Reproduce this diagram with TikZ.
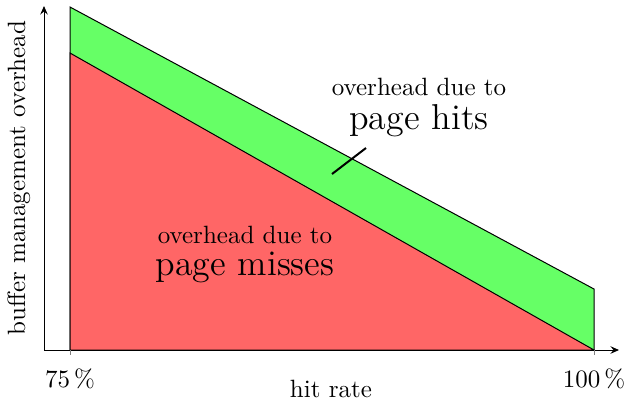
\documentclass[tikz,border=0pt]{standalone}
\usetikzlibrary{arrows.meta}
\begin{document}
\begin{tikzpicture}[x=0.4pt,y=-0.4pt,
  axis/.style={-{Stealth[length=3.4pt,width=3pt,inset=1.2pt]},black},
  tickmark/.style={gray,thin},
  lbl/.style={inner sep=0pt,align=center},
  big/.style={font=\Large}]
\useasboundingbox (0,0) rectangle (627,403);
% key points
\coordinate (O) at (44,350);
\coordinate (L) at (70,350);
\coordinate (R) at (594,350);
\coordinate (GL) at (70,7);
\coordinate (GR) at (594,289);
\coordinate (RL) at (70,53);
% regions
\filldraw[fill=green!60,draw=black] (L) -- (GL) -- (GR) -- (R) -- cycle;
\filldraw[fill=red!60,draw=black] (L) -- (RL) -- (R) -- cycle;
% axes
\coordinate (Ytop) at (44,6);
\coordinate (Xend) at (619,350);
\draw[axis] (O) -- (Ytop);
\draw[axis] (O) -- (Xend);
\draw[tickmark] (L) -- ++(0,5);
\draw[tickmark] (R) -- ++(0,5);
% labels
\node[lbl] (p75) at (70,379) {75\,\%};
\node[lbl] (p100) at (594,379) {100\,\%};
\node[lbl] (hr) at (331,389) {hit rate};
\node[lbl,rotate=90] (yl) at (19,178) {buffer management overhead};
\node[lbl] (hitsA) at (419,87) {overhead due to};
\node[lbl,big] (hitsB) at (419,121) {page hits};
\node[lbl] (missA) at (245,235) {overhead due to};
\node[lbl,big] (missB) at (245,267) {page misses};
% pointer
\coordinate (pa) at (332,174);
\coordinate (pb) at (366,148);
\draw[thick] (pa) -- (pb);
\end{tikzpicture}
\end{document}
